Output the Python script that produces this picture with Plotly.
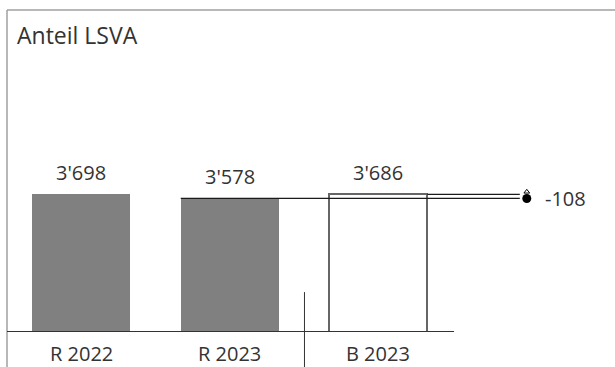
import plotly.graph_objects as go

# Chart data
categories = ["R 2022", "R 2023", "B 2023"]
values = [3698, 3578, 3686]
fill_colors = ["#808080", "#808080", "#ffffff"]
line_colors = ["#808080", "#808080", "#666666"]
line_widths = [0, 0, 2]
title_text = "Anteil LSVA"

FONT = "Open Sans, Noto Sans, sans-serif"
TEXT = "#333333"

xpos = list(range(len(categories)))
bar_w = 0.66
delta = values[1] - values[2]


def swiss(v):
    return f"{v:,}".replace(",", "'")


fig = go.Figure()

fig.add_trace(go.Bar(
    x=xpos, y=values, width=bar_w,
    marker=dict(color=fill_colors, line=dict(color=line_colors, width=line_widths)),
    hoverinfo="skip", showlegend=False,
))

# Reference lines from the actual and budget bars to the variance marker
x_end = 2.953
x_mark = 3.0
fig.add_trace(go.Scatter(
    x=[xpos[1] - bar_w / 2, x_end], y=[values[1], values[1]],
    mode="lines", line=dict(color="#1a1a1a", width=1.2),
    hoverinfo="skip", showlegend=False,
))
fig.add_trace(go.Scatter(
    x=[xpos[2] + bar_w / 2, x_end], y=[values[2], values[2]],
    mode="lines", line=dict(color="#1a1a1a", width=1.2),
    hoverinfo="skip", showlegend=False,
))
# Variance marker: dot at actual, small cap at budget
fig.add_trace(go.Scatter(
    x=[x_mark], y=[values[1]], mode="markers",
    marker=dict(symbol="circle", size=9, color="#000000"),
    hoverinfo="skip", showlegend=False,
))
fig.add_trace(go.Scatter(
    x=[x_mark], y=[values[2] + 70], mode="markers",
    marker=dict(symbol="triangle-up-open", size=5, color="#000000",
                line=dict(width=1)),
    hoverinfo="skip", showlegend=False,
))

annotations = []
for x, v in zip(xpos, values):
    annotations.append(dict(
        x=x, y=v, xref="x", yref="y", text=swiss(v), showarrow=False,
        yanchor="bottom", yshift=6, font=dict(family=FONT, size=20, color=TEXT),
    ))
for x, c in zip(xpos, categories):
    annotations.append(dict(
        x=x, y=0, xref="x", yref="y", text=c, showarrow=False,
        yanchor="top", yshift=-7, borderpad=0,
        font=dict(family=FONT, size=20, color=TEXT),
    ))
annotations.append(dict(
    x=x_mark, y=values[1], xref="x", yref="y", text=f"{delta:,}",
    showarrow=False, xanchor="left", xshift=16, yanchor="middle",
    font=dict(family=FONT, size=20, color=TEXT),
))
annotations.append(dict(
    x=0, y=1, xref="paper", yref="paper", text=title_text, showarrow=False,
    xanchor="left", yanchor="top", xshift=8, yshift=-7,
    font=dict(family=FONT, size=23, color=TEXT),
))

shapes = [
    # frame: top and left edges
    dict(type="line", xref="paper", yref="paper", x0=0, x1=1.02, y0=1, y1=1,
         line=dict(color="#a0a0a0", width=1.5)),
    dict(type="line", xref="paper", yref="paper", x0=0, x1=0, y0=1, y1=-0.2,
         line=dict(color="#a0a0a0", width=1.5)),
    # baseline
    dict(type="line", xref="x", yref="y", x0=-0.5, x1=2.51, y0=0, y1=0,
         line=dict(color="#333333", width=2)),
    # separator between actuals and budget
    dict(type="line", xref="x", yref="paper", x0=1.503, x1=1.503,
         y0=0.124, y1=-0.2, line=dict(color="#333333", width=1)),
]

fig.update_layout(
    width=615, height=367,
    margin=dict(l=7, r=0, t=10, b=35),
    paper_bgcolor="#ffffff", plot_bgcolor="#ffffff",
    xaxis=dict(range=[-0.5, 3.594], visible=False, fixedrange=True),
    yaxis=dict(range=[0, 8628], visible=False, fixedrange=True),
    annotations=annotations, shapes=shapes,
    bargap=0,
)

fig.write_html("out.html")
